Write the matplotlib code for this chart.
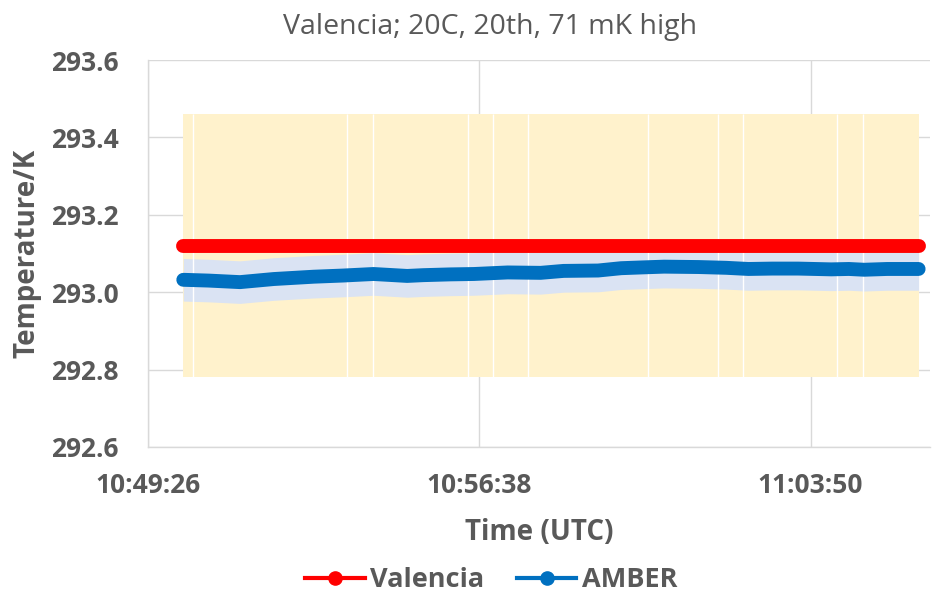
import matplotlib
matplotlib.use("Agg")
import matplotlib.pyplot as plt
import matplotlib.dates as mdates
from matplotlib.lines import Line2D
import pandas as pd

plt.rcParams['font.family'] = ['Open Sans', 'DejaVu Sans']

# Valencia reference value and its uncertainty (K)
valencia_t = ["10:50:12", "11:06:11"]
valencia = [293.12, 293.12]
valencia_unc = 0.34

# AMBER readings (K)
amber_t = ["10:50:12", "10:50:45", "10:51:26", "10:52:10", "10:53:02", "10:53:40",
           "10:54:20", "10:55:04", "10:55:25", "10:56:00", "10:56:31", "10:57:15",
           "10:57:58", "10:58:28", "10:59:13", "10:59:43", "11:00:10", "11:00:39",
           "11:01:24", "11:02:00", "11:02:29", "11:03:00", "11:03:34", "11:04:17",
           "11:04:40", "11:05:00", "11:05:30", "11:06:11"]
amber = [293.032, 293.030, 293.026, 293.034, 293.040, 293.043,
         293.047, 293.042, 293.044, 293.046, 293.047, 293.051,
         293.050, 293.055, 293.056, 293.062, 293.064, 293.066,
         293.065, 293.063, 293.060, 293.061, 293.061, 293.059,
         293.060, 293.058, 293.060, 293.060]
amber_unc = 0.055

# small gaps in the reference record
gap_t = ["10:50:25", "10:53:46", "10:54:19", "10:56:23", "10:56:56", "10:57:41",
         "11:00:18", "11:01:50", "11:02:22", "11:04:25", "11:04:58"]

ticks = ["10:49:26", "10:56:38", "11:03:50"]
x_end = "11:06:26"

day = "2020-01-01 "
def to_dt(ts):
    return pd.to_datetime([day + s for s in ts])

vt = to_dt(valencia_t)
at = to_dt(amber_t)
gt = to_dt(gap_t)
tk = to_dt(ticks)

grey = '#595959'
fig = plt.figure(figsize=(9.32, 5.92), dpi=100)
ax = fig.add_axes([0.1588, 0.245, 0.8392, 0.6536])

lo = [v - valencia_unc for v in valencia]
hi = [v + valencia_unc for v in valencia]
ax.fill_between(vt, lo, hi, color='#FFF2CC', lw=0, zorder=1)
ax.fill_between(at, [a - amber_unc for a in amber], [a + amber_unc for a in amber],
                color='#DAE3F3', lw=0, zorder=2)
ax.vlines(gt, lo[0], hi[0], color='white', lw=1, zorder=3)

ax.plot(vt, valencia, color='#FF0000', lw=10, solid_capstyle='round', zorder=4)
ax.plot(at, amber, color='#0070C0', lw=10, solid_capstyle='round', zorder=5)

ax.set_ylim(292.6, 293.6)
ax.set_yticks([292.6, 292.8, 293.0, 293.2, 293.4, 293.6])
ax.yaxis.set_major_formatter(matplotlib.ticker.FormatStrFormatter('%.1f'))
ax.set_xlim(tk[0], pd.to_datetime(day + x_end))
ax.set_xticks(tk)
ax.xaxis.set_major_formatter(mdates.DateFormatter('%H:%M:%S'))

ax.grid(True, color='#D9D9D9', lw=1)
ax.set_axisbelow(True)
for s in ['top', 'right']:
    ax.spines[s].set_visible(False)
for s in ['left', 'bottom']:
    ax.spines[s].set_color('#D9D9D9')
    ax.spines[s].set_linewidth(1)
ax.tick_params(axis='y', length=0, pad=21, labelsize=19, labelcolor=grey)
ax.tick_params(axis='x', length=0, pad=18, labelsize=19, labelcolor=grey)
for lab in ax.get_xticklabels() + ax.get_yticklabels():
    lab.set_fontweight('bold')

ax.set_ylabel("Temperature/K", fontsize=20, fontweight='bold', color=grey, labelpad=7)
ax.set_xlabel("Time (UTC)", fontsize=20, fontweight='bold', color=grey, labelpad=14)
fig.text(0.526, 1 - 34 / 592, "Valencia; 20C, 20th, 71 mK high", ha='center',
         va='baseline', fontsize=20.5, color=grey)

handles = [Line2D([], [], color='#FF0000', lw=3, marker='o', ms=9.5),
           Line2D([], [], color='#0070C0', lw=3, marker='o', ms=9.5)]
fig.legend(handles, ["Valencia", "AMBER"], loc='center', bbox_to_anchor=(0.527, 0.02),
           ncol=2, frameon=False, handlelength=2.2, handletextpad=0.2, columnspacing=1.2,
           prop={'size': 19.5, 'weight': 'bold'}, labelcolor=grey)

fig.savefig("out.png", dpi=100)
